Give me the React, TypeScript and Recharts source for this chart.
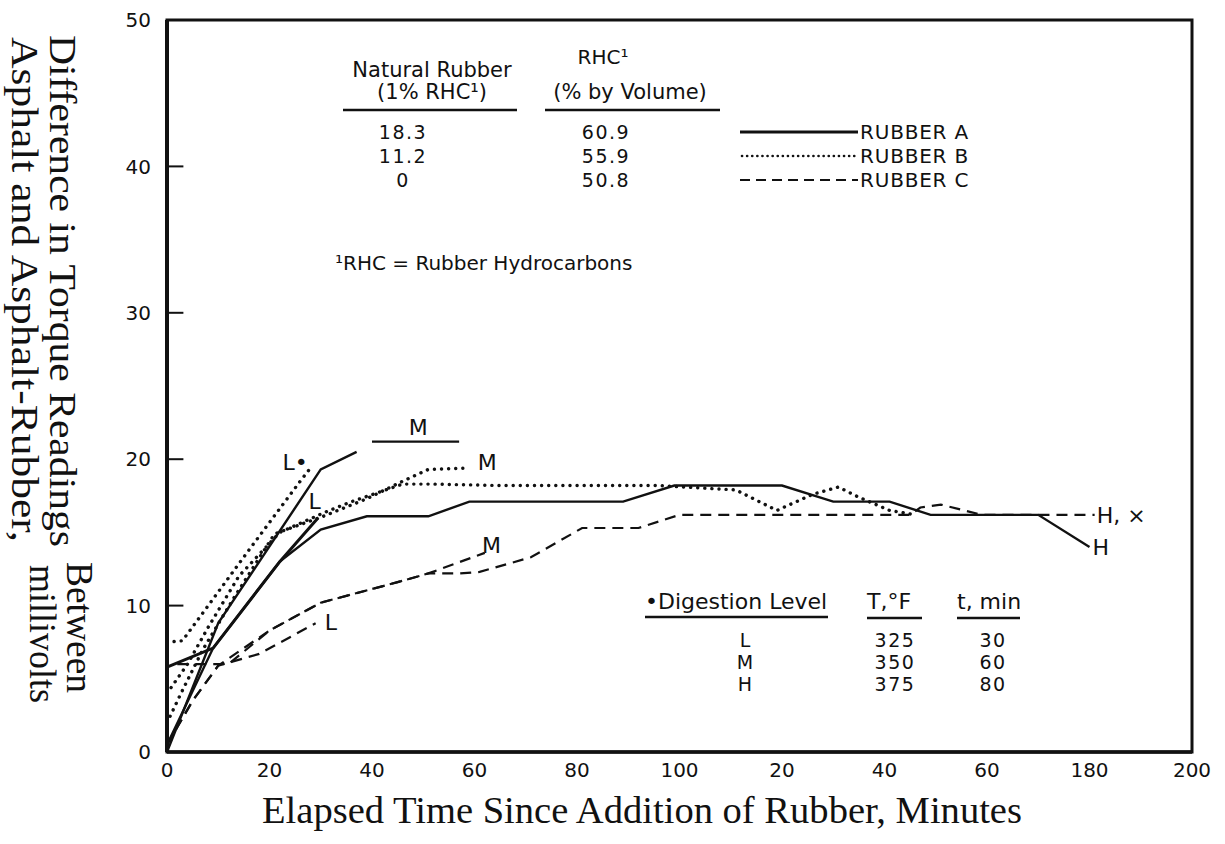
import { Line, LineChart, ReferenceArea, ReferenceDot, ReferenceLine, XAxis, YAxis } from "recharts";

type Pt = [number, number];

// axis ticks (the scan prints 120/140/160 as "20"/"40"/"60")
const xTicks = [0, 20, 40, 60, 80, 100, 120, 140, 160, 180, 200];
const xTickLabels = ["0", "20", "40", "60", "80", "100", "20", "40", "60", "180", "200"];
const yTicks = [0, 10, 20, 30, 40, 50];
const yInnerTicks = [10, 20, 30, 40];

// Rubber A (solid)
const rubberA_L: Pt[] = [[0, 0], [10, 8.8], [30, 19.3], [37, 20.5]];
const rubberA_M: Pt[] = [[0, 5.8], [9, 7.1], [22, 13], [29.5, 16]];
const rubberA_Mbar: Pt[] = [[40, 21.2], [57, 21.2]];
const rubberA_H: Pt[] = [
  [0, 0.5], [9, 7.1], [22, 13], [30, 15.2], [39, 16.1], [51, 16.1], [59, 17.1], [89, 17.1],
  [99, 18.2], [120, 18.2], [130, 17.1], [141, 17.1], [149, 16.2], [170, 16.2], [180, 14],
];

// Rubber B (dotted)
const rubberB_L: Pt[] = [[0, 7.5], [3, 7.6], [7, 9.5], [16, 13.8], [26, 18.5], [28, 19.4]];
const rubberB_M: Pt[] = [
  [0, 2], [3, 4.2], [7, 7], [13, 10.5], [21, 14.9], [30.5, 16.1], [39, 17.3], [46, 18.5], [51, 19.3], [59, 19.4],
];
const rubberB_H: Pt[] = [
  [0, 4], [4, 6], [8, 8.5], [14, 12], [22, 15], [31, 16.4], [36, 17.1], [46, 18.3], [52, 18.3], [65, 18.2],
  [96, 18.2], [111, 17.9], [119, 16.5], [126, 17.6], [131, 18.1], [135, 17.4], [141, 16.5], [146, 16.2],
];

// Rubber C (dashed)
const rubberC_L: Pt[] = [[0, 0.5], [5, 3.5], [10, 5.9], [18, 6.7], [29, 8.8]];
const rubberC_M: Pt[] = [[0, 0.5], [5, 3.5], [10, 5.9], [20, 8.3], [30, 10.2], [45, 11.6], [51, 12.2], [62, 13.6]];
const rubberC_H: Pt[] = [
  [2, 6], [12, 6], [20, 8.3], [30, 10.2], [45, 11.6], [51, 12.2], [57, 12.2], [61, 12.3], [71, 13.3],
  [81, 15.3], [92, 15.3], [100, 16.2], [145, 16.2], [147, 16.7], [151, 16.9], [159, 16.2], [181, 16.2],
];

// curve labels: [x, y, text]
const curveLabels: [number, number, string][] = [
  [25, 19.8, "L•"],
  [49, 22.2, "M"],
  [62.5, 19.8, "M"],
  [28.8, 17.1, "L"],
  [63.3, 14.1, "M"],
  [32, 8.9, "L"],
];

// legend tables
const naturalRubber = ["18.3", "11.2", "0"];
const rhcVolume = ["60.9", "55.9", "50.8"];
const rubberNames = ["RUBBER A", "RUBBER B", "RUBBER C"];
const levels = ["L", "M", "H"];
const tempsF = ["325", "350", "375"];
const timesMin = ["30", "60", "80"];

const INK = "#111";
const SANS = "DejaVu Sans, sans-serif";
const SERIF = "Liberation Serif, Times New Roman, serif";

const solid = { stroke: INK, strokeWidth: 2.4 };
const dotted = { stroke: INK, strokeWidth: 3.4, strokeDasharray: "0.1 7", strokeLinecap: "round" as const };
const dashed = { stroke: INK, strokeWidth: 2.2, strokeDasharray: "11 7" };

const series = [
  { key: "aL", pts: rubberA_L, style: solid },
  { key: "aM", pts: rubberA_M, style: { ...solid, strokeWidth: 3 } },
  { key: "aMbar", pts: rubberA_Mbar, style: solid },
  { key: "aH", pts: rubberA_H, style: solid },
  { key: "bL", pts: rubberB_L, style: dotted },
  { key: "bM", pts: rubberB_M, style: dotted },
  { key: "bH", pts: rubberB_H, style: dotted },
  { key: "cL", pts: rubberC_L, style: dashed },
  { key: "cM", pts: rubberC_M, style: dashed },
  { key: "cH", pts: rubberC_H, style: dashed },
];

const toXY = (pts: Pt[]) => pts.map(([x, y]) => ({ x, y }));

export default function App() {
  const rowY = [132, 156, 180];
  const digY = [640, 662, 684];
  return (
    <div style={{ position: "absolute", left: 0, top: 0, width: 1225, height: 844, background: "#fff" }}>
      <LineChart width={1225} height={844} margin={{ top: 20, right: 33, bottom: 52, left: 107 }}>
        <XAxis
          type="number"
          dataKey="x"
          domain={[0, 200]}
          ticks={xTicks}
          tickFormatter={(v) => xTickLabels[xTicks.indexOf(v)] ?? String(v)}
          height={40}
          tickLine={false}
          tickSize={6}
          tickMargin={5}
          axisLine={{ stroke: INK, strokeWidth: 3.5 }}
          tick={{ fill: INK, fontSize: 20, fontFamily: SANS }}
          allowDataOverflow
        />
        <YAxis
          type="number"
          domain={[0, 50]}
          ticks={yTicks}
          width={60}
          tickLine={false}
          tickSize={6}
          tickMargin={10}
          axisLine={{ stroke: INK, strokeWidth: 4 }}
          tick={{ fill: INK, fontSize: 20, fontFamily: SANS }}
          allowDataOverflow
        />
        <ReferenceArea x1={0} x2={200} y1={0} y2={50} fill="none" stroke={INK} strokeWidth={3} ifOverflow="visible" />
        {yInnerTicks.map((v) => (
          <ReferenceLine key={v} segment={[{ x: 0, y: v }, { x: 3.2, y: v }]} stroke={INK} strokeWidth={2} />
        ))}
        {series.map((s) => (
          <Line
            key={s.key}
            data={toXY(s.pts)}
            dataKey="y"
            type="linear"
            dot={false}
            activeDot={false}
            isAnimationActive={false}
            {...s.style}
          />
        ))}
        {curveLabels.map(([x, y, t], i) => (
          <ReferenceDot
            key={i}
            x={x}
            y={y}
            r={0}
            fill="none"
            stroke="none"
            label={{ value: t, position: "center", fill: INK, fontSize: 22, fontFamily: SANS }}
          />
        ))}
        <ReferenceDot
          x={181}
          y={16.2}
          r={0}
          fill="none"
          stroke="none"
          label={{ value: "H,  ×", position: "right", offset: 2, fill: INK, fontSize: 22, fontFamily: SANS }}
        />
        <ReferenceDot
          x={180}
          y={14}
          r={0}
          fill="none"
          stroke="none"
          label={{ value: "H", position: "right", offset: 3, fill: INK, fontSize: 22, fontFamily: SANS }}
        />
      </LineChart>

      <svg
        width={1225}
        height={844}
        style={{ position: "absolute", left: 0, top: 0, pointerEvents: "none" }}
        fontFamily={SANS}
        fill={INK}
      >
        {/* composition table */}
        <text x={603} y={57} fontSize={20} textAnchor="middle" dominantBaseline="central">RHC¹</text>
        <text x={432} y={70} fontSize={21} textAnchor="middle" dominantBaseline="central">Natural Rubber</text>
        <text x={432} y={92} fontSize={21} textAnchor="middle" dominantBaseline="central">(1% RHC¹)</text>
        <text x={630} y={92} fontSize={21} textAnchor="middle" dominantBaseline="central">(% by Volume)</text>
        <line x1={343} x2={517} y1={110} y2={110} stroke={INK} strokeWidth={2.5} />
        <line x1={545} x2={720} y1={110} y2={110} stroke={INK} strokeWidth={2.5} />
        {rowY.map((y, i) => (
          <g key={i}>
            <text x={403} y={y} fontSize={19} textAnchor="middle" dominantBaseline="central" letterSpacing={1.5}>{naturalRubber[i]}</text>
            <text x={606} y={y} fontSize={19} textAnchor="middle" dominantBaseline="central" letterSpacing={1.5}>{rhcVolume[i]}</text>
            <text x={860} y={y} fontSize={20} dominantBaseline="central" letterSpacing={0.8}>{rubberNames[i]}</text>
          </g>
        ))}
        <line x1={740} x2={858} y1={rowY[0]} y2={rowY[0]} stroke={INK} strokeWidth={3} />
        <line x1={742} x2={858} y1={rowY[1]} y2={rowY[1]} stroke={INK} strokeWidth={2.6} strokeDasharray="0.1 5" strokeLinecap="round" />
        <line x1={740} x2={858} y1={rowY[2]} y2={rowY[2]} stroke={INK} strokeWidth={2} strokeDasharray="10 6" />
        <text x={335} y={263} fontSize={20} dominantBaseline="central">¹RHC = Rubber Hydrocarbons</text>

        {/* digestion table */}
        <text x={645} y={601} fontSize={22} dominantBaseline="central">•Digestion Level</text>
        <text x={867} y={601} fontSize={22} dominantBaseline="central">T,°F</text>
        <text x={957} y={601} fontSize={22} dominantBaseline="central">t, min</text>
        <line x1={645} x2={828} y1={617} y2={617} stroke={INK} strokeWidth={2.5} />
        <line x1={867} x2={922} y1={618} y2={618} stroke={INK} strokeWidth={2.5} />
        <line x1={957} x2={1020} y1={618} y2={618} stroke={INK} strokeWidth={2.5} />
        {digY.map((y, i) => (
          <g key={i}>
            <text x={745} y={y} fontSize={19} textAnchor="middle" dominantBaseline="central">{levels[i]}</text>
            <text x={895} y={y} fontSize={19} textAnchor="middle" dominantBaseline="central" letterSpacing={1.5}>{tempsF[i]}</text>
            <text x={993} y={y} fontSize={19} textAnchor="middle" dominantBaseline="central" letterSpacing={1.5}>{timesMin[i]}</text>
          </g>
        ))}

        {/* axis titles */}
        <text x={262} y={823} fontSize={38} fontFamily={SERIF} textLength={760} lengthAdjust="spacingAndGlyphs">
          Elapsed Time Since Addition of Rubber, Minutes
        </text>
        <text transform="translate(50,35) rotate(90)" fontSize={38} fontFamily={SERIF} textLength={512} lengthAdjust="spacingAndGlyphs">
          Difference in Torque Readings
        </text>
        <text transform="translate(67,562) rotate(90)" fontSize={38} fontFamily={SERIF} textLength={131} lengthAdjust="spacingAndGlyphs">
          Between
        </text>
        <text transform="translate(12,37) rotate(90)" fontSize={38} fontFamily={SERIF} textLength={505} lengthAdjust="spacingAndGlyphs">
          Asphalt and Asphalt-Rubber,
        </text>
        <text transform="translate(30,565) rotate(90)" fontSize={38} fontFamily={SERIF} textLength={138} lengthAdjust="spacingAndGlyphs">
          millivolts
        </text>
      </svg>
    </div>
  );
}
